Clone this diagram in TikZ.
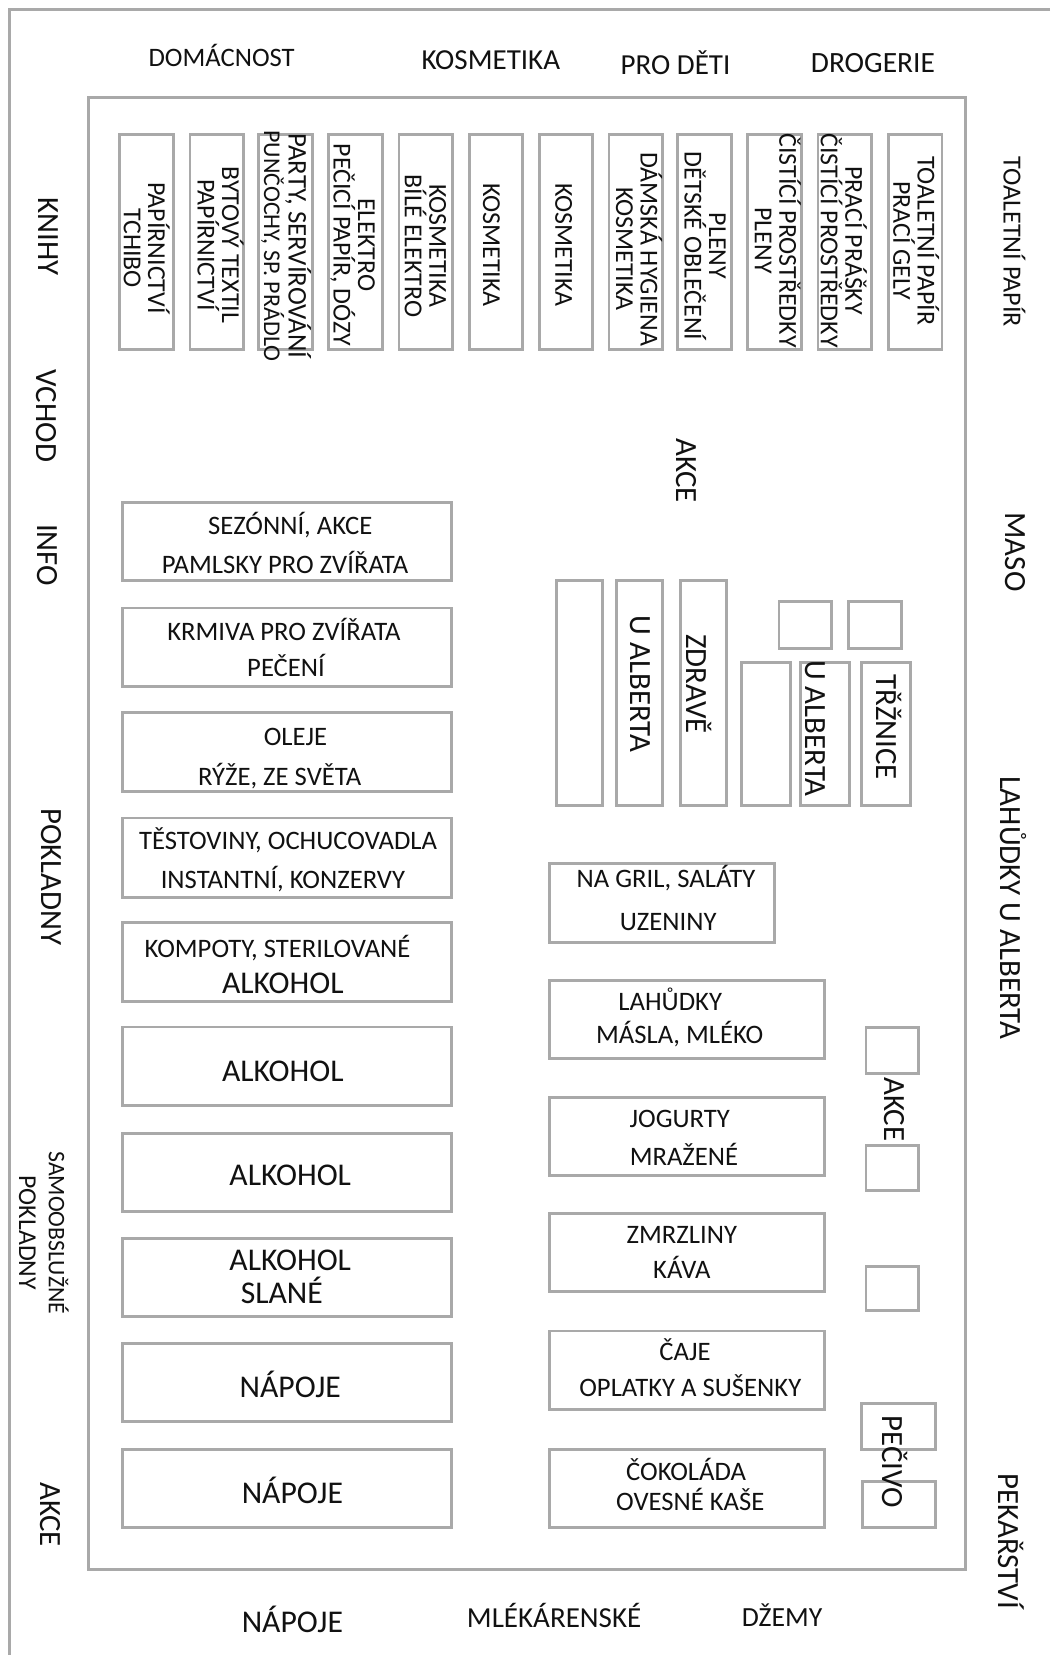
\documentclass[tikz,border=0pt]{standalone}
\usepackage{fontspec}
\setmainfont{Carlito}
\definecolor{linegray}{HTML}{A9A9A9}
\definecolor{ink}{HTML}{111111}
\newcommand{\bx}[5]{\node[boxn,minimum width={(#4-#2)*0.8pt},minimum height={(#5-#3)*0.8pt}] (#1) at ({(#2+#4)/2},{(#3+#5)/2}) {};}
\newcommand{\fs}[1]{\fontsize{#1}{#1}\selectfont}
\tikzset{
  boxn/.style={draw=linegray,line width=2.2pt,rectangle,inner sep=0pt,outer sep=0pt},
  lab/.style={text=ink,inner sep=0pt,outer sep=0pt,align=center},
  small/.style={lab,font=\fs{20.2}},
  big/.style={lab,font=\fs{24}},
  head/.style={lab,font=\fs{22}},
  side/.style={lab,font=\fs{23.4},rotate=-90},
  vert/.style={lab,rotate=-90,font=\fontsize{19.6}{18.5}\selectfont},
}
\begin{document}
\begin{tikzpicture}[x=0.8pt,y=-0.8pt]
\useasboundingbox (0,0) rectangle (995,1568);
% walls
\coordinate (wallA) at (995,9);
\coordinate (wallB) at (9,9);
\coordinate (wallC) at (9,1568);
\draw[draw=linegray,line width=2.2pt] (wallA) -- (wallB) -- (wallC);
\bx{hall}{84}{92}{915}{1487}
% top row shelves
\bx{t1}{113.5}{127}{164}{331}
\bx{t2}{180}{127}{231}{331}
\bx{t3}{245}{127}{296}{331}
\bx{t4}{311}{127}{362}{331}
\bx{t5}{378}{127}{429}{331}
\bx{t6}{444.5}{127}{495}{331}
\bx{t7}{511}{127}{561.5}{331}
\bx{t8}{577}{127}{628}{331}
\bx{t9}{642}{127}{693}{331}
\bx{t10}{708.5}{127}{759.5}{331}
\bx{t11}{775}{127}{826}{331}
\bx{t12}{841.5}{127}{892.5}{331}
\node[vert] (tt1) at (139,235) {PAPÍRNICTVÍ\\TCHIBO};
\node[vert] (tt2) at (209,232) {BYTOVÝ TEXTIL\\PAPÍRNICTVÍ};
\node[vert] (tt3) at (271,233) {{\fs{20.4}PARTY, SERVÍROVÁNÍ}\\{\fs{18.2}PUNČOCHY, SP. PRÁDLO}};
\node[vert] (tt4) at (334,232) {ELEKTRO\\PEČICÍ PAPÍR, DÓZY};
\node[vert] (tt5) at (403,233) {KOSMETIKA\\BÍLÉ ELEKTRO};
\node[vert] (tt6) at (465.5,232) {KOSMETIKA};
\node[vert] (tt7) at (534,232) {KOSMETIKA};
\node[vert] (tt8) at (605.5,236) {DÁMSKÁ HYGIENA\\KOSMETIKA};
\node[vert] (tt9) at (668,233) {PLENY\\DĚTSKÉ OBLEČENÍ};
\node[vert] (tt10) at (737,228) {ČISTÍCÍ PROSTŘEDKY\\PLENY};
\node[vert] (tt11) at (799.5,228) {PRACÍ PRÁŠKY\\ČISTÍCÍ PROSTŘEDKY};
\node[vert] (tt12) at (868,228) {TOALETNÍ PAPÍR\\PRACÍ GELY};
% top headings
\node[head,font=\fs{20.2}] (hDom) at (210,52.5) {DOMÁCNOST};
\node[head] (hKos) at (465,57) {KOSMETIKA};
\node[head] (hDet) at (640,59.5) {PRO DĚTI};
\node[head,font=\fs{22.3}] (hDro) at (827,60) {DROGERIE};
% left side
\node[side] (sKni) at (45.5,224) {KNIHY};
\node[side] (sVch) at (43.5,394) {VCHOD};
\node[side] (sInf) at (45,526) {INFO};
\node[side] (sPok) at (48.5,831) {POKLADNY};
\node[lab,rotate=-90,font=\fontsize{18}{22.6}\selectfont] (sSam) at (41.5,1168) {SAMOOBSLUŽNÉ\\{\fs{19.5}POKLADNY}};
\node[side] (sAkc) at (48,1435) {AKCE};
% right side
\node[lab,rotate=-90,font=\fs{19.8}] (rToa) at (961,229) {TOALETNÍ PAPÍR};
\node[side] (rMas) at (962,523) {MASO};
\node[side] (rLah) at (960,860) {LAHŮDKY U ALBERTA};
\node[side] (rPek) at (958,1460) {PEKAŘSTVÍ};
% bottom
\node[big] (bNap) at (277,1534) {NÁPOJE};
\node[head] (bMle) at (525,1531) {MLÉKÁRENSKÉ};
\node[head,font=\fs{21}] (bDze) at (741,1530) {DŽEMY};
% left aisle
\bx{l1}{116}{476}{428}{550}
\bx{l2}{116}{576}{428}{650.5}
\bx{l3}{116}{675}{428}{749.5}
\bx{l4}{116}{775}{428}{850}
\bx{l5}{116}{874}{428}{948.5}
\bx{l6}{116}{973}{428}{1047.5}
\bx{l7}{116}{1074}{428}{1147.5}
\bx{l8}{116}{1173}{428}{1247}
\bx{l9}{116}{1273}{428}{1347}
\bx{l10}{116}{1373}{428}{1447}
\node[small] (la1) at (275,497) {SEZÓNNÍ, AKCE};
\node[small] (la2) at (270,533) {PAMLSKY PRO ZVÍŘATA};
\node[small] (lb1) at (269,596) {KRMIVA PRO ZVÍŘATA};
\node[small] (lb2) at (271,630) {PEČENÍ};
\node[small] (lc1) at (280,698) {OLEJE};
\node[small] (lc2) at (265,735) {RÝŽE, ZE SVĚTA};
\node[small] (ld1) at (273,796) {TĚSTOVINY, OCHUCOVADLA};
\node[small] (ld2) at (268,833) {INSTANTNÍ, KONZERVY};
\node[small] (le1) at (263,898) {KOMPOTY, STERILOVANÉ};
\node[big] (le2) at (268,932) {ALKOHOL};
\node[big] (lf1) at (268,1015) {ALKOHOL};
\node[big] (lg1) at (275,1114) {ALKOHOL};
\node[big] (lh1) at (275,1194) {ALKOHOL};
\node[big] (lh2) at (267,1223) {SLANÉ};
\node[big] (li1) at (275,1312) {NÁPOJE};
\node[big] (lj1) at (277,1412) {NÁPOJE};
% centre blocks
\node[side] (cAkc) at (650,446) {AKCE};
\bx{m1}{527.5}{550}{570.5}{763}
\bx{m2}{584.5}{550}{628}{763}
\bx{m3}{645}{550}{688.5}{763}
\bx{q1}{738}{570}{787.5}{614}
\bx{q2}{804}{570}{854}{614}
\bx{n1}{702.5}{628}{749}{763}
\bx{n2}{758.5}{628}{805}{763}
\bx{n3}{816}{628}{863}{763}
\node[side] (mAlb) at (607,648) {U ALBERTA};
\node[side] (mZdr) at (662.5,648) {ZDRAVĚ};
\node[side] (nAlb) at (772,690) {U ALBERTA};
\node[side] (nTrz) at (842,689) {TŘŽNICE};
% centre aisle
\bx{c1}{521}{818}{734}{893}
\bx{c2}{521}{929}{781}{1003}
\bx{c3}{521}{1040}{781}{1114}
\bx{c4}{521}{1150}{781}{1224}
\bx{c5}{521}{1261}{781}{1335}
\bx{c6}{521}{1373}{781}{1447}
\node[small] (ca1) at (631,832) {NA GRIL, SALÁTY};
\node[small] (ca2) at (633,874) {UZENINY};
\node[small] (cb1) at (635,947) {LAHŮDKY};
\node[small] (cb2) at (644,980) {MÁSLA, MLÉKO};
\node[small] (cc1) at (644,1060) {JOGURTY};
\node[small] (cc2) at (648,1094) {MRAŽENÉ};
\node[small] (cd1) at (646,1170) {ZMRZLINY};
\node[small] (cd2) at (646,1200.5) {KÁVA};
\node[small] (ce1) at (649,1279) {ČAJE};
\node[small] (ce2) at (654,1312.5) {OPLATKY A SUŠENKY};
\node[small] (cf1) at (650,1392.5) {ČOKOLÁDA};
\node[small] (cf2) at (654,1420.5) {OVESNÉ KAŠE};
% right stands
\bx{r1}{820.5}{973.5}{870}{1017}
\bx{r2}{820.5}{1085}{870}{1127.5}
\bx{r3}{820.5}{1200}{870}{1242}
\bx{r4}{816}{1330}{886}{1373}
\bx{r5}{817.5}{1404}{886}{1447}
\node[side] (rAkc) at (847.5,1051) {AKCE};
\node[side] (rPec) at (847.5,1385) {PEČIVO};
\end{tikzpicture}
\end{document}
